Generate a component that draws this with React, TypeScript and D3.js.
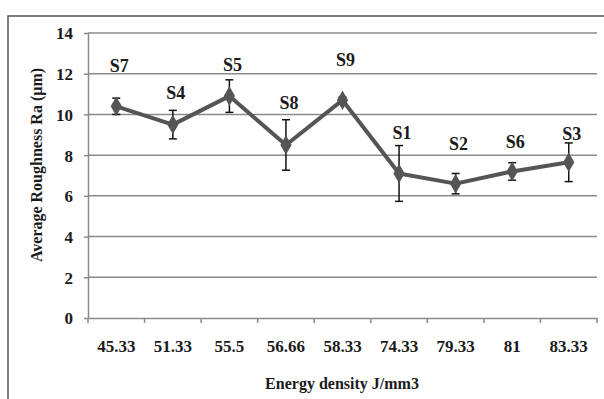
import React, { useEffect, useRef } from 'react';
import * as d3 from 'd3';

// energy density categories (x axis) and sample names
const energies = ['45.33', '51.33', '55.5', '56.66', '58.33', '74.33', '79.33', '81', '83.33'];
const samples = ['S7', 'S4', 'S5', 'S8', 'S9', 'S1', 'S2', 'S6', 'S3'];
// average roughness Ra (µm) and error
const roughness = [10.4, 9.5, 10.9, 8.5, 10.7, 7.1, 6.6, 7.2, 7.65];
const errors = [0.4, 0.7, 0.8, 1.24, 0.15, 1.37, 0.5, 0.43, 0.95];
// label heights in data units
const labelAt = [12.4, 11.05, 12.45, 10.6, 12.7, 9.1, 8.55, 8.65, 9.05];
const yTicks = [0, 2, 4, 6, 8, 10, 12, 14];

const W = 604, H = 399;
const left = 88, right = 597, top = 33, bottom = 318;
const font = '"Liberation Serif", "Times New Roman", serif';

export default function App() {
  const ref = useRef<SVGSVGElement>(null);

  useEffect(() => {
    const svg = d3.select(ref.current);
    svg.selectAll('*').remove();

    const x = d3.scaleBand().domain(energies).range([left, right]);
    const y = d3.scaleLinear().domain([0, 14]).range([bottom, top]);

    // outer frame
    svg.append('path')
      .attr('d', `M8,${H + 5} L8,16 L${W + 5},16`)
      .attr('fill', 'none').attr('stroke', '#555').attr('stroke-width', 1.5);

    // grid
    svg.append('g').selectAll('line').data(yTicks.filter(d => d > 0)).enter().append('line')
      .attr('x1', left).attr('x2', right)
      .attr('y1', d => y(d)).attr('y2', d => y(d))
      .attr('stroke', '#8a8a8a').attr('stroke-width', 1.5);

    // y axis
    const ya = svg.append('g').attr('transform', `translate(${left},0)`)
      .call(d3.axisLeft(y).tickValues(yTicks).tickSize(4).tickSizeOuter(0));
    ya.select('.domain').attr('stroke', '#8a8a8a').attr('stroke-width', 1.5);
    ya.selectAll('.tick line').attr('stroke', '#8a8a8a').attr('stroke-width', 1.5);
    ya.selectAll('.tick text')
      .attr('x', -15).attr('dy', '0.35em')
      .style('font-family', font).style('font-size', '17px').style('font-weight', 'bold').attr('fill', '#1a1a1a');

    // x axis
    const xa = svg.append('g').attr('transform', `translate(0,${bottom})`)
      .call(d3.axisBottom(x).tickSize(0).tickSizeOuter(0));
    xa.select('.domain').attr('stroke', '#8a8a8a').attr('stroke-width', 1.5);
    xa.selectAll('.tick text')
      .attr('y', 22)
      .style('font-family', font).style('font-size', '17px').style('font-weight', 'bold').attr('fill', '#1a1a1a');
    // category boundary ticks
    svg.append('g').selectAll('line').data(d3.range(energies.length + 1)).enter().append('line')
      .attr('x1', i => left + i * x.step()).attr('x2', i => left + i * x.step())
      .attr('y1', bottom).attr('y2', bottom + 5)
      .attr('stroke', '#8a8a8a').attr('stroke-width', 1.5);

    const cx = (i: number) => (x(energies[i]) as number) + x.bandwidth() / 2;

    // line
    const line = d3.line<number>().x((_, i) => cx(i)).y(d => y(d));
    svg.append('path').datum(roughness)
      .attr('d', line).attr('fill', 'none')
      .attr('stroke', '#555').attr('stroke-width', 4).attr('stroke-linejoin', 'round');

    // error bars
    const eb = svg.append('g').attr('stroke', '#111').attr('stroke-width', 1.5);
    roughness.forEach((v, i) => {
      const x0 = cx(i), y0 = y(v + errors[i]), y1 = y(v - errors[i]);
      eb.append('line').attr('x1', x0).attr('x2', x0).attr('y1', y0).attr('y2', y1);
      eb.append('line').attr('x1', x0 - 4).attr('x2', x0 + 4).attr('y1', y0).attr('y2', y0);
      eb.append('line').attr('x1', x0 - 4).attr('x2', x0 + 4).attr('y1', y1).attr('y2', y1);
    });

    // diamond markers
    svg.append('g').selectAll('path').data(roughness).enter().append('path')
      .attr('d', d3.symbol().type(d3.symbolDiamond).size(110))
      .attr('transform', (d, i) => `translate(${cx(i)},${y(d)})`)
      .attr('fill', '#555');

    // sample labels
    svg.append('g').selectAll('text').data(samples).enter().append('text')
      .attr('x', (_, i) => cx(i) + 3).attr('y', (_, i) => y(labelAt[i]))
      .attr('dy', '0.35em').attr('text-anchor', 'middle')
      .style('font-family', font).style('font-size', '18px').style('font-weight', 'bold').attr('fill', '#1a1a1a')
      .text(d => d);

    // axis titles
    svg.append('text')
      .attr('transform', `translate(36,165) rotate(-90)`)
      .attr('text-anchor', 'middle').attr('dy', '0.35em')
      .style('font-family', font).style('font-size', '16px').style('font-weight', 'bold').attr('fill', '#1a1a1a')
      .text('Average Roughness  Ra (µm)');
    svg.append('text')
      .attr('x', 342).attr('y', 383).attr('dy', '0.35em').attr('text-anchor', 'middle')
      .style('font-family', font).style('font-size', '16px').style('font-weight', 'bold').attr('fill', '#1a1a1a')
      .text('Energy density  J/mm3');
  }, []);

  return (
    <svg ref={ref} width={W} height={H}
      style={{ position: 'absolute', left: 0, top: 0, background: '#fff' }} />
  );
}
